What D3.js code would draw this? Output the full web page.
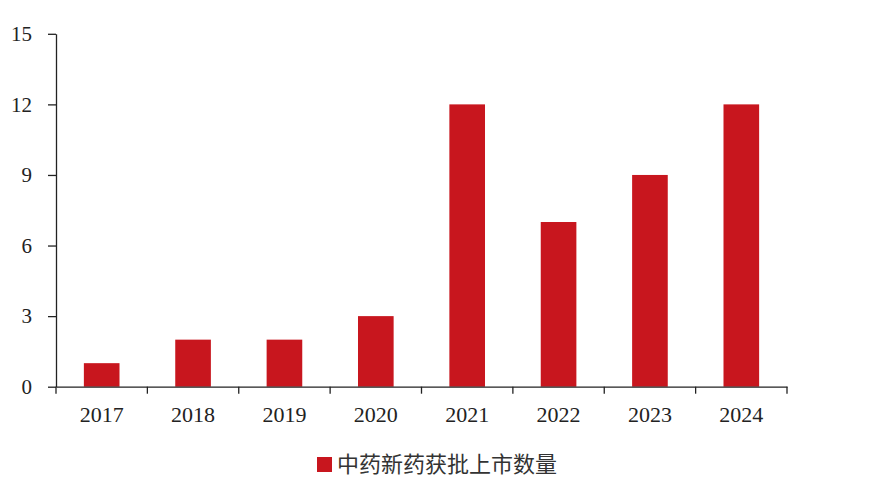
<!DOCTYPE html>
<html><head><meta charset="utf-8">
<script src="https://cdn.jsdelivr.net/npm/d3@7"></script>
<style>html,body{margin:0;padding:0;background:#fff;}</style>
</head><body>
<svg id="c" width="870" height="492"></svg>
<script>
const categories = ["2017","2018","2019","2020","2021","2022","2023","2024"];
const values = [1,2,2,3,12,7,9,12];
const yTicks = [0,3,6,9,12,15];
const seriesName = "中药新药获批上市数量";

(function(){
const svg = d3.select("#c");
const mLeft = 56, mRight = 787, mTop = 33.8, mBottom = 386.7;
const xb = d3.scaleBand().domain(categories).range([mLeft, mRight]);
const y = d3.scaleLinear().domain([0,15]).range([mBottom, mTop]);
const barW = xb.bandwidth()*0.39;

svg.selectAll("rect.bar").data(values).enter().append("rect")
  .attr("class","bar")
  .attr("x",(d,i)=>xb(categories[i]) + xb.bandwidth()/2 - barW/2)
  .attr("width",barW)
  .attr("y",d=>y(d))
  .attr("height",d=>mBottom-y(d))
  .attr("fill","#C8161E");

// y axis
const ya = svg.append("g").attr("transform",`translate(${mLeft},0)`)
  .call(d3.axisLeft(y).tickValues(yTicks).tickSize(8).tickSizeOuter(0).tickPadding(16));
ya.select(".domain").attr("stroke","#222").attr("stroke-width",1.3);
ya.selectAll(".tick line").attr("stroke","#222").attr("stroke-width",1.3);
ya.selectAll("text").attr("font-family","'Liberation Serif', 'Times New Roman', serif").attr("font-size",21).attr("fill","#222");

// x axis
const xa = svg.append("g").attr("transform",`translate(0,${mBottom})`)
  .call(d3.axisBottom(xb).tickValues([]).tickSizeOuter(0));
xa.select(".domain").attr("stroke","#222").attr("stroke-width",1.3);
const bounds = categories.map(c=>xb(c)).concat([mRight]);
xa.selectAll("line.sep").data(bounds).enter().append("line").attr("class","sep")
  .attr("x1",d=>d).attr("x2",d=>d).attr("y1",0).attr("y2",7)
  .attr("stroke","#222").attr("stroke-width",1.3);
xa.selectAll("text.lab").data(categories).enter().append("text").attr("class","lab")
  .attr("x",d=>xb(d)+xb.bandwidth()/2).attr("y",35)
  .attr("text-anchor","middle")
  .attr("font-family","'Liberation Serif', 'Times New Roman', serif").attr("font-size",22).attr("fill","#222")
  .text(d=>d);

// legend
const lg = svg.append("g");
lg.append("rect").attr("x",317).attr("y",457).attr("width",15).attr("height",15).attr("fill","#C8161E");
lg.append("text").attr("x",337).attr("y",472).attr("font-family","'Noto Sans CJK SC', sans-serif")
  .attr("font-size",22).attr("fill","#333").text(seriesName);
})();
</script>
</body></html>
